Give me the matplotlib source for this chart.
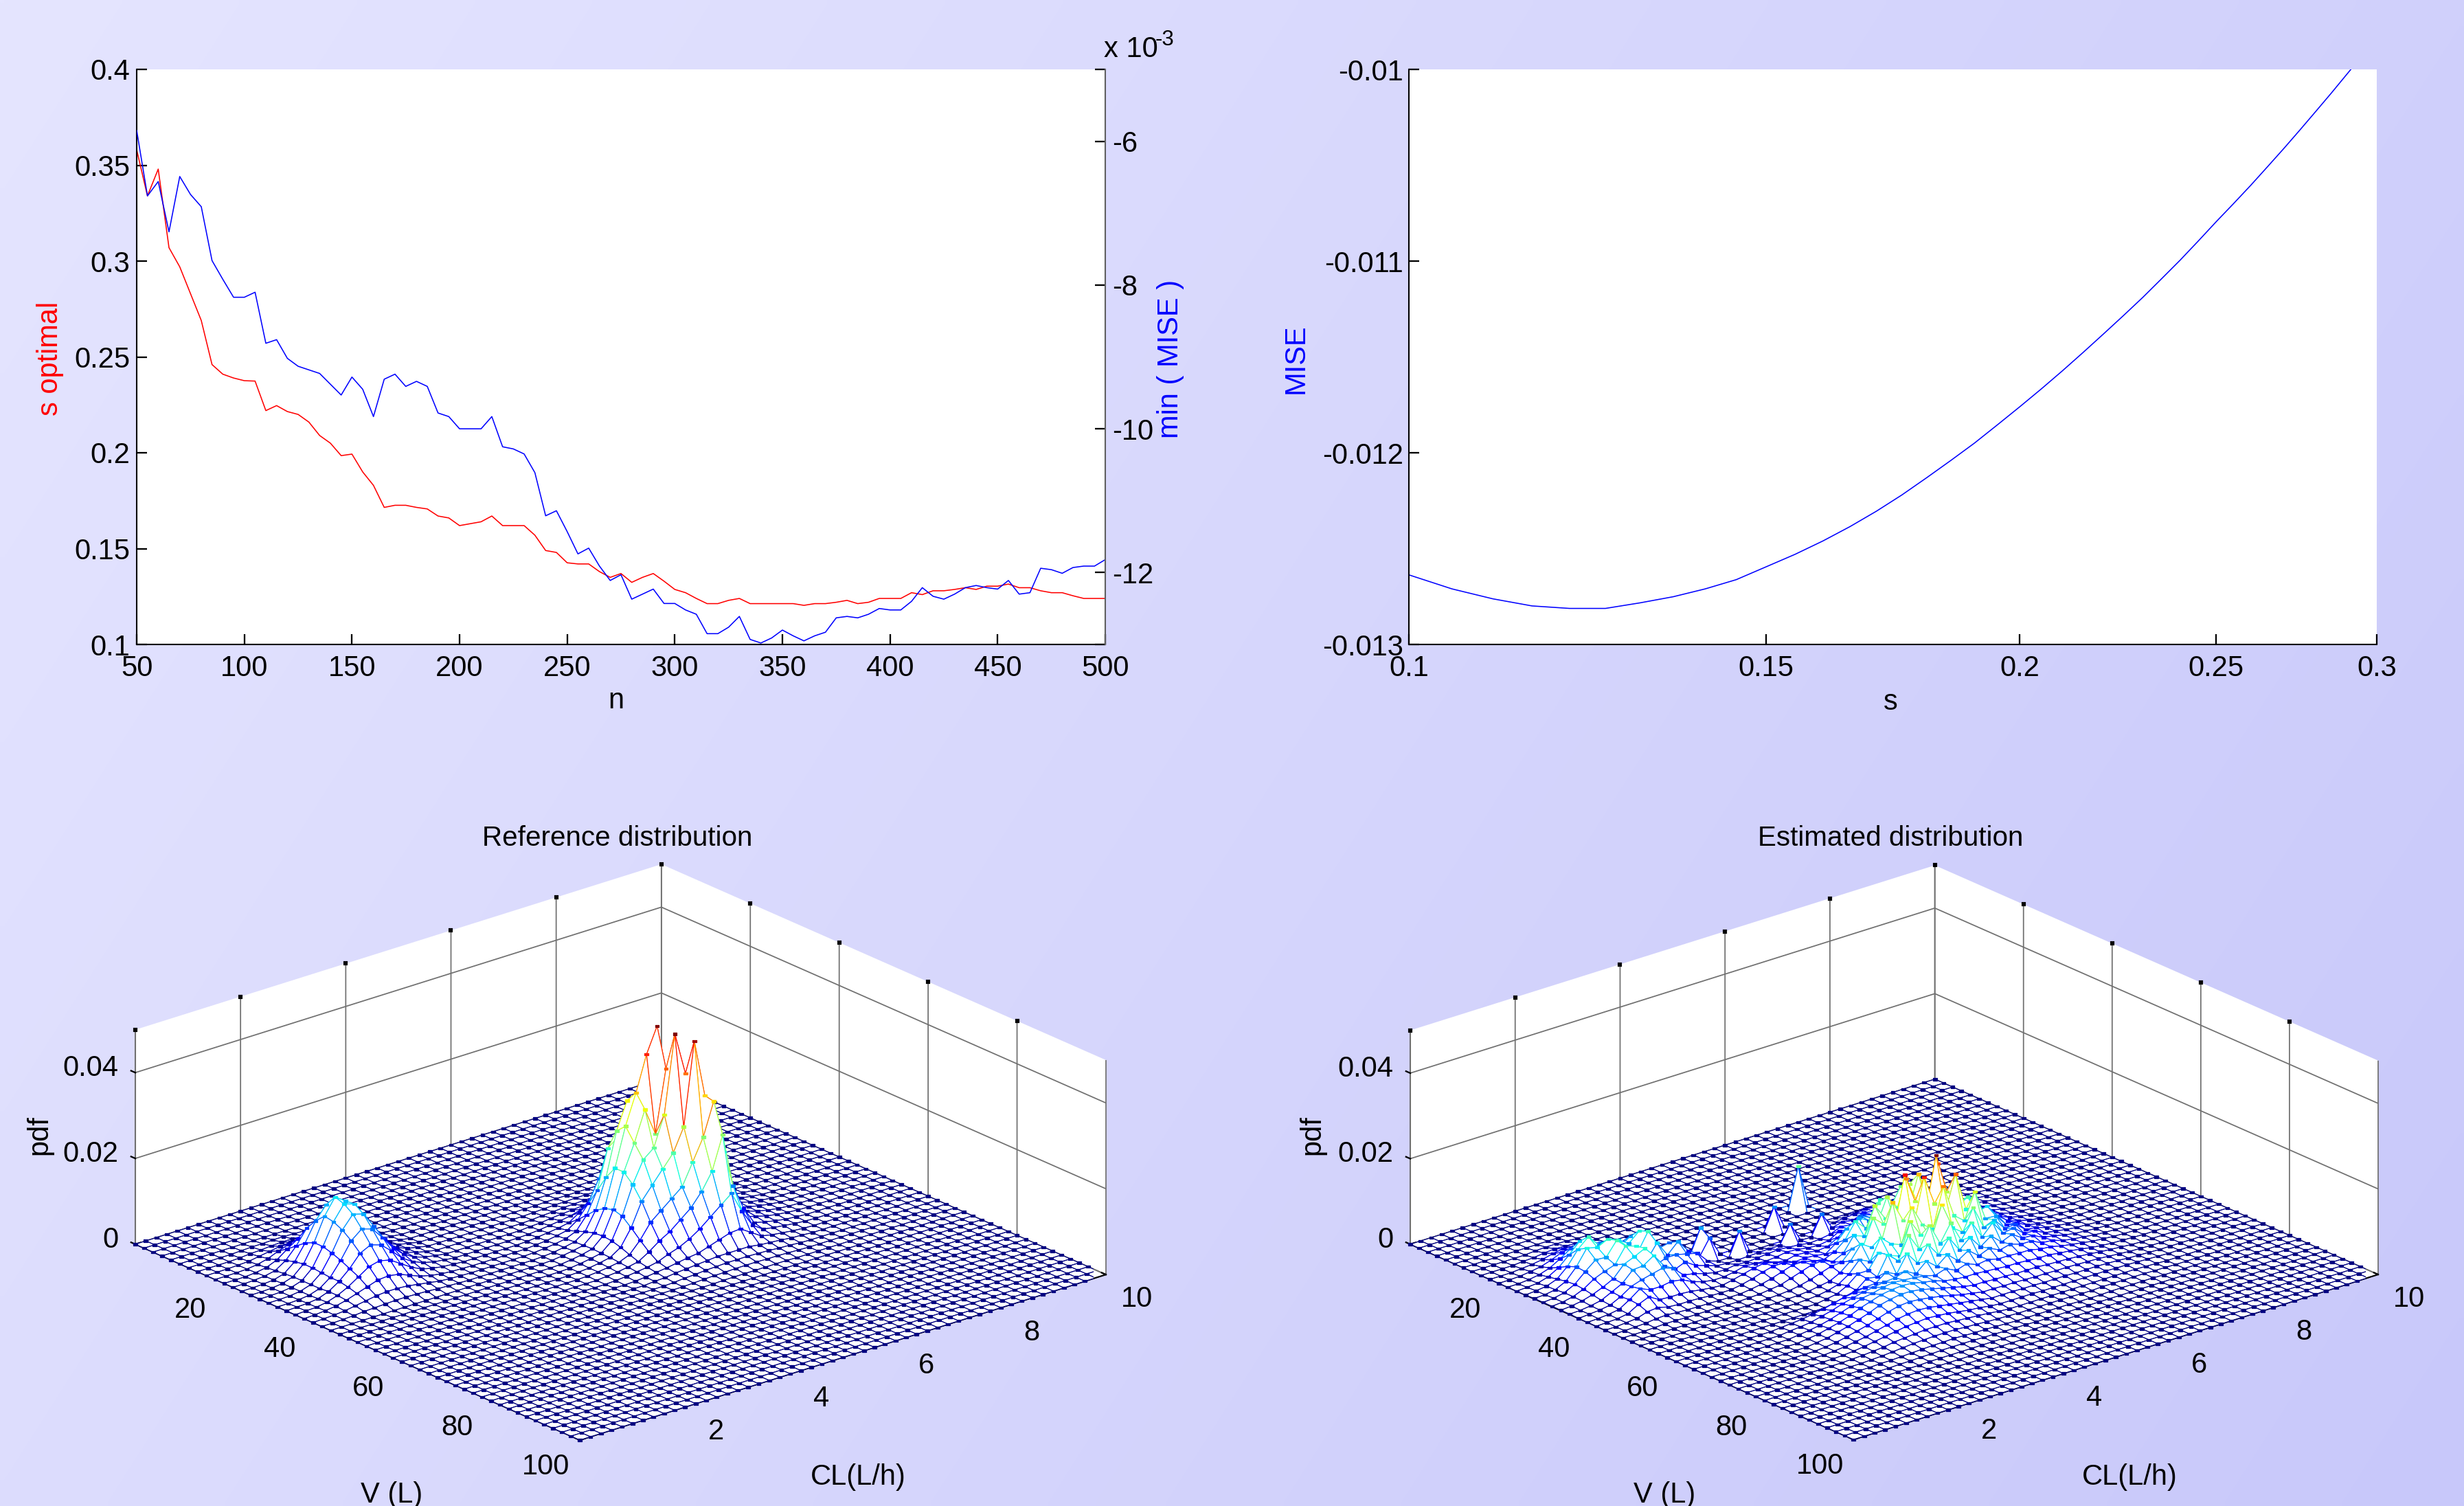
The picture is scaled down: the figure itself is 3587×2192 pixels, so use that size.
import numpy as np
import matplotlib
matplotlib.use("Agg")
import matplotlib.pyplot as plt
from mpl_toolkits.mplot3d import proj3d
from mpl_toolkits.mplot3d.art3d import Poly3DCollection

FW, FH, DPI = 3587, 2192, 300

n_values = list(range(50, 505, 5))
s_optimal = [
    0.358, 0.334, 0.348, 0.307, 0.297, 0.283, 0.269, 0.246, 0.241, 0.239,
    0.2376, 0.2374, 0.222, 0.2246, 0.2215, 0.220, 0.216, 0.209, 0.205, 0.1985,
    0.1993, 0.190, 0.183, 0.1715, 0.1726, 0.1726, 0.1715, 0.1707, 0.167, 0.166,
    0.162, 0.163, 0.164, 0.167, 0.162, 0.162, 0.162, 0.157, 0.149, 0.148,
    0.1426, 0.142, 0.142, 0.138, 0.135, 0.137, 0.1324, 0.135, 0.137, 0.133,
    0.1287, 0.127, 0.124, 0.1213, 0.1213, 0.123, 0.124, 0.1213, 0.1213, 0.1213,
    0.1213, 0.1213, 0.1204, 0.1213, 0.1213, 0.122, 0.123, 0.1213, 0.122, 0.124,
    0.124, 0.124, 0.127, 0.126, 0.128, 0.128, 0.1287, 0.1296, 0.1287, 0.1304,
    0.1304, 0.1315, 0.1296, 0.1296, 0.128, 0.127, 0.127, 0.1254, 0.124, 0.124,
    0.124,
]
min_mise = [
    -5.85, -6.76, -6.56, -7.26, -6.49, -6.74, -6.91, -7.66, -7.92, -8.17,
    -8.17, -8.10, -8.81, -8.76, -9.02, -9.13, -9.18, -9.23, -9.38, -9.53,
    -9.28, -9.45, -9.83, -9.31, -9.24, -9.41, -9.34, -9.41, -9.78, -9.83,
    -10.0, -10.0, -10.0, -9.83, -10.25, -10.28, -10.35, -10.61, -11.21, -11.14,
    -11.43, -11.74, -11.66, -11.91, -12.11, -12.03, -12.37, -12.30, -12.23, -12.43,
    -12.43, -12.52, -12.58, -12.85, -12.85, -12.76, -12.61, -12.93, -12.98, -12.91,
    -12.80, -12.88, -12.95, -12.88, -12.83, -12.63, -12.61, -12.63, -12.58, -12.50,
    -12.52, -12.52, -12.40, -12.21, -12.33, -12.37, -12.30, -12.21, -12.18, -12.21,
    -12.23, -12.11, -12.30, -12.28, -11.94, -11.96, -12.01, -11.93, -11.91, -11.91,
    -11.82,
]

s_values = [0.10, 0.105, 0.11, 0.115, 0.12, 0.125, 0.13, 0.135, 0.14, 0.145, 0.15,
            0.155, 0.16, 0.165, 0.17, 0.175, 0.18, 0.185, 0.19, 0.195, 0.20, 0.205,
            0.21, 0.215, 0.22, 0.225, 0.23, 0.235, 0.24, 0.245, 0.25, 0.255, 0.26,
            0.265, 0.27, 0.275, 0.28, 0.285, 0.29, 0.295, 0.30]
mise_values = [-.012637, -.012710, -.012762, -.012799, -.012812, -.012812, -.012783,
               -.012751, -.012710, -.012662, -.012595, -.012530, -.012460, -.012385,
               -.012305, -.012220, -.012130, -.012040, -.011950, -.011855, -.011761,
               -.011667, -.011572, -.011476, -.011380, -.011285, -.011190, -.011092,
               -.010995, -.010895, -.010795, -.010700, -.010605, -.010508, -.010412,
               -.010315, -.010218, -.010122, -.010025, -.009930, -.009835]

# surface patches, pdf in 1e-4 units, grid node index = V/2 and CL*5
ref_main_start = (15, 23)
ref_main = [
    [0, 0, 0, 0, 1, 2, 3, 3, 3, 3, 2, 1, 1, 0, 0, 0, 0],
    [0, 0, 1, 2, 4, 7, 10, 12, 12, 10, 7, 4, 2, 1, 0, 0, 0],
    [0, 1, 3, 6, 12, 20, 30, 34, 30, 26, 18, 10, 5, 2, 1, 0, 0],
    [1, 2, 6, 14, 30, 52, 76, 70, 84, 58, 38, 22, 10, 4, 2, 0, 0],
    [1, 4, 12, 30, 60, 110, 140, 150, 130, 110, 70, 40, 18, 8, 3, 1, 0],
    [2, 6, 20, 50, 100, 190, 210, 270, 220, 170, 112, 62, 28, 12, 4, 1, 0],
    [2, 8, 28, 70, 140, 240, 303, 250, 330, 240, 160, 84, 38, 14, 5, 2, 0],
    [3, 10, 34, 84, 170, 260, 330, 412, 470, 300, 210, 104, 46, 18, 6, 2, 0],
    [3, 10, 36, 90, 170, 230, 300, 236, 380, 330, 230, 120, 52, 20, 7, 2, 0],
    [3, 10, 34, 84, 150, 200, 220, 290, 470, 370, 280, 130, 54, 22, 8, 2, 0],
    [2, 8, 28, 66, 120, 150, 180, 210, 263, 455, 320, 170, 54, 20, 7, 2, 0],
    [2, 6, 20, 46, 80, 100, 120, 140, 190, 240, 316, 190, 70, 22, 7, 2, 0],
    [1, 4, 12, 28, 46, 60, 80, 100, 130, 170, 247, 120, 60, 16, 5, 1, 0],
    [1, 2, 6, 14, 24, 32, 44, 60, 80, 100, 120, 70, 30, 10, 3, 1, 0],
    [0, 1, 3, 6, 10, 14, 20, 28, 36, 44, 46, 30, 14, 5, 2, 0, 0],
    [0, 0, 1, 2, 4, 5, 8, 10, 12, 14, 14, 10, 5, 2, 1, 0, 0],
    [0, 0, 0, 0, 1, 1, 2, 3, 3, 3, 3, 2, 1, 0, 0, 0, 0],
]
ref_foot_start = (13, 21)
ref_foot = [
    [0, 0, 0, 0, 0, 0, 0, 1, 1, 1, 1, 1, 1, 1, 0, 0, 0, 0, 0, 0, 0],
    [0, 0, 0, 0, 0, 1, 2, 3, 3, 4, 4, 4, 3, 3, 2, 1, 0, 0, 0, 0, 0],
    [0, 0, 0, 0, 1, 3, 4, 6, 7, 8, 8, 8, 7, 6, 4, 3, 1, 0, 0, 0, 0],
    [0, 0, 0, 2, 3, 6, 8, 10, 12, 14, 14, 14, 12, 10, 8, 6, 3, 2, 0, 0, 0],
    [0, 0, 1, 3, 6, 9, 13, 17, 20, 22, 22, 22, 20, 17, 13, 9, 6, 3, 1, 0, 0],
    [0, 1, 3, 6, 9, 13, 19, 24, 27, 30, 30, 30, 27, 24, 19, 13, 9, 6, 3, 1, 0],
    [0, 2, 4, 8, 13, 19, 25, 30, 35, 40, 40, 40, 35, 30, 25, 19, 13, 8, 4, 2, 0],
    [1, 3, 6, 10, 17, 24, 30, 38, 40, 40, 40, 40, 40, 38, 30, 24, 17, 10, 6, 3, 1],
    [1, 3, 7, 12, 20, 27, 35, 40, 40, 40, 40, 40, 40, 40, 35, 27, 20, 12, 7, 3, 1],
    [1, 4, 8, 13, 21, 29, 38, 40, 40, 40, 40, 40, 40, 40, 38, 29, 21, 13, 8, 4, 1],
    [1, 4, 8, 14, 22, 30, 40, 40, 40, 40, 40, 40, 40, 40, 40, 30, 22, 14, 8, 4, 1],
    [1, 4, 8, 13, 21, 29, 38, 40, 40, 40, 40, 40, 40, 40, 38, 29, 21, 13, 8, 4, 1],
    [1, 3, 7, 12, 20, 27, 35, 40, 40, 40, 40, 40, 40, 40, 35, 27, 20, 12, 7, 3, 1],
    [1, 3, 6, 10, 17, 24, 30, 38, 40, 40, 40, 40, 40, 38, 30, 24, 17, 10, 6, 3, 1],
    [0, 2, 4, 8, 13, 19, 25, 30, 35, 40, 40, 40, 35, 30, 25, 19, 13, 8, 4, 2, 0],
    [0, 1, 3, 6, 9, 13, 19, 24, 27, 30, 30, 30, 27, 24, 19, 13, 9, 6, 3, 1, 0],
    [0, 0, 1, 3, 6, 9, 13, 17, 20, 22, 22, 22, 20, 17, 13, 9, 6, 3, 1, 0, 0],
    [0, 0, 0, 2, 3, 6, 8, 10, 12, 14, 14, 14, 12, 10, 8, 6, 3, 2, 0, 0, 0],
    [0, 0, 0, 0, 1, 3, 4, 6, 7, 8, 8, 8, 7, 6, 4, 3, 1, 0, 0, 0, 0],
    [0, 0, 0, 0, 0, 1, 2, 3, 3, 4, 4, 4, 3, 3, 2, 1, 0, 0, 0, 0, 0],
    [0, 0, 0, 0, 0, 0, 0, 1, 1, 1, 1, 1, 1, 1, 0, 0, 0, 0, 0, 0, 0],
]
ref_small_start = (6, 1)
ref_small = [
    [0, 0, 0, 0, 1, 2, 2, 3, 3, 2, 1, 1, 0, 0, 0],
    [0, 0, 0, 1, 3, 4, 6, 7, 7, 5, 4, 3, 2, 1, 0],
    [0, 0, 1, 2, 6, 10, 14, 16, 16, 12, 8, 6, 4, 2, 1],
    [0, 0, 1, 4, 10, 20, 28, 32, 30, 24, 16, 10, 6, 3, 1],
    [0, 0, 2, 6, 16, 34, 50, 58, 54, 42, 28, 16, 8, 4, 2],
    [0, 1, 3, 8, 24, 50, 84, 96, 88, 66, 42, 24, 12, 6, 3],
    [0, 1, 3, 10, 30, 66, 110, 140, 124, 92, 58, 32, 16, 8, 4],
    [0, 1, 4, 12, 34, 76, 130, 167, 150, 110, 68, 38, 20, 10, 5],
    [0, 1, 4, 12, 34, 76, 126, 160, 152, 112, 70, 38, 20, 10, 5],
    [0, 1, 4, 12, 32, 70, 116, 145, 138, 102, 64, 36, 18, 10, 4],
    [0, 1, 4, 12, 30, 62, 100, 120, 112, 84, 52, 30, 16, 8, 4],
    [1, 2, 5, 14, 30, 52, 80, 92, 84, 62, 38, 22, 12, 6, 3],
    [1, 2, 6, 14, 26, 42, 58, 64, 58, 42, 26, 14, 8, 4, 2],
    [1, 3, 6, 12, 20, 28, 36, 38, 34, 24, 14, 8, 4, 2, 1],
    [1, 2, 4, 8, 12, 16, 18, 18, 16, 12, 8, 4, 2, 1, 0],
    [0, 1, 2, 4, 5, 6, 7, 7, 6, 5, 3, 2, 1, 0, 0],
]
est_right_start = (17, 16)
est_right = [
    [0, 0, 0, 0, 0, 0, 0, 0, 0, 3, 5, 8, 10, 14, 10, 14, 12, 8, 9, 5, 3, 2, 0, 0, 0, 0],
    [0, 0, 0, 0, 0, 0, 0, 3, 5, 10, 16, 12, 22, 18, 26, 20, 24, 14, 12, 8, 5, 2, 1, 0, 0, 0],
    [0, 0, 0, 0, 0, 2, 4, 8, 12, 22, 18, 34, 26, 44, 30, 38, 28, 26, 16, 12, 7, 4, 2, 0, 0, 0],
    [0, 0, 0, 0, 2, 5, 10, 14, 28, 24, 48, 36, 62, 44, 66, 42, 46, 30, 24, 14, 9, 5, 2, 1, 0, 0],
    [0, 0, 0, 2, 4, 10, 16, 30, 26, 60, 46, 88, 60, 104, 62, 74, 48, 44, 26, 18, 10, 6, 3, 1, 0, 0],
    [0, 0, 1, 4, 8, 16, 34, 60, 44, 36, 96, 64, 52, 118, 84, 66, 70, 40, 32, 18, 11, 6, 3, 1, 0, 0],
    [0, 1, 3, 6, 14, 30, 50, 86, 62, 60, 120, 88, 70, 150, 90, 70, 96, 52, 30, 20, 12, 7, 3, 2, 0, 0],
    [0, 2, 5, 12, 24, 36, 70, 60, 124, 86, 66, 164, 104, 84, 176, 96, 70, 72, 40, 24, 13, 7, 4, 2, 1, 0],
    [1, 3, 8, 18, 32, 56, 50, 112, 90, 70, 190, 120, 88, 212, 120, 76, 92, 50, 34, 24, 13, 8, 4, 2, 1, 0],
    [2, 5, 12, 24, 44, 76, 60, 72, 150, 100, 78, 186, 116, 86, 170, 80, 64, 72, 42, 22, 15, 8, 5, 2, 1, 0],
    [3, 7, 14, 30, 56, 44, 92, 70, 60, 140, 92, 74, 166, 90, 70, 130, 60, 58, 30, 26, 14, 9, 5, 3, 1, 0],
    [4, 8, 20, 40, 40, 74, 60, 50, 124, 84, 66, 140, 78, 60, 110, 56, 66, 38, 40, 20, 17, 9, 6, 3, 1, 0],
    [5, 12, 18, 38, 34, 78, 56, 108, 68, 116, 66, 106, 58, 92, 50, 76, 44, 48, 28, 26, 14, 10, 6, 3, 2, 0],
    [6, 12, 24, 26, 54, 42, 82, 52, 88, 56, 88, 52, 74, 44, 62, 40, 50, 34, 32, 20, 16, 10, 6, 4, 2, 1],
    [7, 14, 18, 34, 32, 58, 42, 66, 46, 66, 44, 60, 40, 50, 38, 44, 36, 36, 24, 22, 14, 10, 7, 4, 2, 1],
    [7, 12, 20, 22, 36, 32, 44, 38, 50, 38, 46, 36, 40, 34, 34, 32, 32, 26, 24, 18, 14, 10, 6, 4, 2, 1],
    [6, 11, 14, 20, 22, 28, 30, 32, 34, 32, 32, 30, 28, 26, 26, 24, 22, 22, 18, 16, 12, 8, 5, 3, 2, 1],
    [5, 8, 11, 14, 16, 18, 20, 22, 22, 22, 22, 20, 20, 18, 18, 18, 16, 15, 14, 12, 10, 7, 5, 3, 1, 0],
    [3, 6, 8, 10, 12, 13, 14, 15, 15, 15, 15, 14, 14, 13, 12, 12, 11, 11, 10, 9, 8, 6, 4, 2, 1, 0],
    [2, 4, 5, 7, 8, 9, 10, 10, 10, 10, 10, 10, 9, 9, 8, 8, 8, 7, 7, 7, 6, 5, 3, 2, 1, 0],
    [1, 2, 3, 4, 5, 6, 6, 6, 6, 6, 6, 6, 6, 5, 5, 5, 5, 5, 5, 5, 4, 4, 3, 2, 1, 0],
    [0, 1, 2, 2, 3, 3, 3, 3, 3, 3, 3, 3, 3, 3, 3, 3, 3, 3, 3, 3, 3, 3, 2, 1, 0, 0],
    [0, 0, 1, 1, 1, 2, 2, 2, 2, 2, 2, 2, 2, 2, 2, 1, 1, 2, 2, 2, 2, 2, 1, 1, 0, 0],
    [0, 0, 0, 0, 0, 0, 0, 1, 1, 1, 1, 1, 1, 1, 0, 0, 0, 1, 1, 1, 1, 1, 0, 0, 0, 0],
]
est_front_start = (30, 10)
est_front = [
    [2, 4, 6, 10, 14, 20, 26, 30, 34, 36, 38, 38, 36, 34, 30, 26, 20, 14, 10, 6, 3],
    [3, 5, 8, 14, 20, 28, 34, 40, 44, 48, 50, 48, 44, 40, 36, 30, 22, 16, 10, 6, 3],
    [3, 6, 10, 16, 24, 32, 42, 46, 52, 56, 54, 52, 48, 42, 36, 28, 22, 14, 10, 5, 2],
    [3, 6, 12, 18, 26, 36, 44, 52, 56, 58, 56, 50, 46, 38, 32, 24, 18, 12, 8, 4, 2],
    [3, 6, 12, 18, 26, 34, 44, 50, 54, 54, 50, 44, 38, 32, 26, 20, 14, 10, 6, 3, 1],
    [2, 5, 10, 16, 22, 30, 38, 44, 46, 44, 40, 36, 30, 24, 20, 14, 10, 6, 4, 2, 1],
    [2, 4, 8, 12, 18, 24, 30, 34, 36, 34, 30, 26, 22, 18, 14, 10, 6, 4, 2, 1, 0],
    [1, 3, 6, 10, 14, 18, 22, 24, 26, 24, 22, 18, 14, 12, 8, 6, 4, 2, 1, 0, 0],
    [1, 2, 4, 6, 10, 12, 14, 16, 16, 16, 14, 12, 10, 8, 5, 3, 2, 1, 0, 0, 0],
    [0, 1, 2, 4, 6, 8, 9, 10, 10, 10, 8, 7, 5, 4, 3, 2, 1, 0, 0, 0, 0],
    [0, 1, 1, 2, 3, 4, 5, 5, 6, 5, 4, 4, 3, 2, 1, 1, 0, 0, 0, 0, 0],
    [0, 0, 1, 1, 2, 2, 3, 3, 3, 3, 2, 2, 1, 1, 1, 0, 0, 0, 0, 0, 0],
    [0, 0, 0, 0, 1, 1, 1, 1, 1, 1, 1, 1, 1, 0, 0, 0, 0, 0, 0, 0, 0],
]
est_left_start = (7, 0)
est_left = [
    [0, 0, 0, 0, 0, 0, 2, 3, 3, 2, 0, 0, 0, 0, 0],
    [0, 0, 0, 0, 2, 3, 6, 8, 7, 5, 3, 0, 0, 0, 0],
    [0, 0, 0, 2, 4, 8, 14, 18, 14, 9, 5, 2, 0, 0, 0],
    [0, 0, 1, 4, 8, 16, 26, 22, 26, 14, 7, 3, 1, 0, 0],
    [0, 0, 2, 6, 14, 28, 44, 30, 40, 18, 12, 6, 2, 0, 0],
    [0, 1, 3, 10, 24, 46, 70, 40, 52, 30, 38, 12, 4, 1, 0],
    [0, 2, 5, 14, 36, 68, 90, 62, 66, 44, 60, 24, 8, 3, 0],
    [1, 2, 6, 18, 44, 80, 74, 86, 76, 60, 82, 38, 22, 6, 1],
    [1, 3, 8, 20, 42, 62, 60, 92, 70, 48, 90, 42, 48, 14, 3],
    [1, 3, 8, 18, 34, 44, 52, 88, 80, 38, 72, 36, 60, 30, 6],
    [1, 3, 7, 14, 24, 36, 62, 72, 84, 36, 46, 46, 40, 34, 8],
    [1, 2, 5, 10, 22, 34, 58, 60, 76, 44, 28, 38, 22, 14, 6],
    [0, 2, 4, 8, 20, 36, 44, 50, 56, 48, 24, 20, 12, 7, 3],
    [0, 1, 3, 7, 22, 40, 30, 30, 34, 30, 18, 10, 6, 3, 1],
    [0, 1, 2, 6, 20, 30, 16, 14, 14, 12, 8, 5, 3, 1, 0],
    [0, 0, 2, 4, 12, 14, 8, 6, 6, 5, 3, 2, 1, 0, 0],
    [0, 0, 1, 2, 5, 6, 4, 3, 2, 2, 1, 1, 0, 0, 0],
    [0, 0, 0, 1, 2, 2, 1, 1, 1, 1, 0, 0, 0, 0, 0],
]
est_mid_start = (18, 12)
est_mid = [
    [1, 2, 3, 4, 4, 5, 6, 7, 7, 6, 4, 2, 1],
    [2, 4, 6, 10, 8, 10, 12, 14, 12, 10, 6, 3, 1],
    [3, 6, 10, 16, 14, 12, 14, 18, 16, 12, 8, 4, 2],
    [3, 8, 14, 20, 24, 18, 14, 20, 18, 14, 10, 6, 2],
    [2, 6, 12, 20, 26, 26, 20, 22, 20, 16, 12, 8, 3],
    [1, 4, 8, 14, 22, 30, 30, 24, 20, 18, 14, 10, 4],
    [1, 2, 5, 8, 16, 24, 32, 34, 24, 18, 16, 12, 5],
    [0, 1, 2, 4, 8, 14, 22, 30, 30, 24, 18, 14, 6],
    [0, 0, 1, 2, 4, 8, 12, 18, 24, 26, 20, 16, 8],
    [0, 0, 0, 1, 2, 4, 6, 10, 14, 18, 20, 14, 8],
    [0, 0, 0, 0, 1, 2, 3, 5, 7, 10, 12, 10, 6],
]
spike_i = [13, 15, 18, 18, 17, 15, 16, 16, 15]
spike_j = [26, 22, 21, 24, 17, 15, 15, 10, 9]
spike_z = [100, 55, 50, 50, 55, 60, 45, 45, 40]

v_ticks = [20, 40, 60, 80, 100]
cl_ticks = [2, 4, 6, 8, 10]
pdf_ticks = [0, 0.02, 0.04]
pdf_tick_labels = ["0", "0.02", "0.04"]

NODES = 51
AZ, EL = -40.2, 21.85
BOX_Z = 0.3355
ZMAX = 0.05

plt.rcParams["font.family"] = ["Liberation Sans", "DejaVu Sans"]
plt.rcParams["font.size"] = 10
plt.rcParams["grid.color"] = "#707070"
plt.rcParams["grid.linewidth"] = 0.42
plt.rcParams["axes.linewidth"] = 0.5
for t in ["xtick", "ytick"]:
    plt.rcParams[t + ".major.width"] = 0.55
    plt.rcParams[t + ".major.size"] = 3.7
    plt.rcParams[t + ".direction"] = "in"


def fx(px):
    return px / FW


def fy(py):
    return 1 - py / FH


def label(px, py, text, **kw):
    kw.setdefault("ha", "center")
    kw.setdefault("va", "center")
    fig.text(fx(px), fy(py), text, **kw)


def axes_px(left, top, right, bottom):
    return fig.add_axes([fx(left), fy(bottom), (right - left) / FW, (bottom - top) / FH])


def build_surface(patches, spikes=None):
    z = np.zeros((NODES, NODES))
    for start, rows in patches:
        rows = np.array(rows, dtype=float)
        i0, j0 = start
        block = z[i0:i0 + rows.shape[0], j0:j0 + rows.shape[1]]
        np.maximum(block, rows, out=block)
    if spikes is not None:
        for i, j, v in zip(*spikes):
            z[i, j] = max(z[i, j], v)
    return z * 1e-4


def draw_mesh(ax, z):
    V = np.linspace(0, 100, NODES)
    CL = np.linspace(0, 10, NODES)
    cmap = plt.get_cmap("jet")
    zmax = z.max()
    polys, faces, edges = [], [], []
    for i in range(NODES - 1):
        for j in range(NODES - 1):
            polys.append([(V[i], CL[j], z[i, j]), (V[i + 1], CL[j], z[i + 1, j]),
                          (V[i + 1], CL[j + 1], z[i + 1, j + 1]), (V[i], CL[j + 1], z[i, j + 1])])
            faces.append((1, 1, 1, 1))
            cell = z[i:i + 2, j:j + 2]
            edges.append(cmap((0.7 * cell.mean() + 0.3 * cell.max()) / zmax))

    # node dots sit in the same sorted collection, nudged toward the camera so only peaks hide them
    a, e = np.radians(AZ), np.radians(EL)
    right = np.array([-np.sin(a), np.cos(a), 0])
    up = np.array([-np.cos(a) * np.sin(e), -np.sin(a) * np.sin(e), np.cos(e)])
    front = np.array([np.cos(e) * np.cos(a), np.cos(e) * np.sin(a), np.sin(e)])
    to_data = np.array([100, 10, ZMAX / BOX_Z])
    rx, ry = 2.9 / 1002, 1.7 / 1002
    corners = [rx * right + ry * up, rx * right - ry * up, -rx * right - ry * up, -rx * right + ry * up]
    corners = [(c + 0.026 * front) * to_data for c in corners]
    for i in range(NODES):
        for j in range(NODES):
            p = np.array([V[i], CL[j], z[i, j]])
            polys.append([tuple(p + c) for c in corners])
            col = cmap(z[i, j] / zmax)
            faces.append(col)
            edges.append(col)
    mesh = Poly3DCollection(polys, facecolors=faces, edgecolors=edges, linewidths=0.3, zsort="average")
    ax.add_collection3d(mesh, autolim=False)


def text_at(ax, v, cl, p, s, **kw):
    # text placed at a 3D spot, written as plain 2D text on the projected point
    xs, ys, _ = proj3d.proj_transform(np.array([float(v)]), np.array([float(cl)]), np.array([float(p)]), ax.get_proj())
    ax.text2D(xs[0], ys[0], s, transform=ax.transData, va="center", **kw)


def panel_3d(z, left_corner, right_corner, title, title_x, pdf_x, v_pos, cl_pos):
    ax = fig.add_axes([0, 0, 0.2, 0.2], projection="3d", proj_type="ortho")
    ax.set_facecolor("none")
    ax.set_xlim(0, 100, view_margin=0)
    ax.set_ylim(0, 10, view_margin=0)
    ax.set_zlim(0, ZMAX, view_margin=0)
    ax.set_box_aspect((1, 1, BOX_Z))
    ax.view_init(elev=EL, azim=AZ)

    # put the box where the corners are in pixels
    xs, ys, _ = proj3d.proj_transform(np.array([0.0, 100.0]), np.array([0.0, 10.0]), np.zeros(2), ax.get_proj())
    l, r = matplotlib.axes.Axes.get_xlim(ax)
    b, t = matplotlib.axes.Axes.get_ylim(ax)
    side = (right_corner[0] - left_corner[0]) / (xs[1] - xs[0]) * (r - l)
    ax_left = left_corner[0] - (xs[0] - l) / (r - l) * side
    ax_bottom = (FH - left_corner[1]) - (ys[0] - b) / (t - b) * side
    ax.set_position([ax_left / FW, ax_bottom / FH, side / FW, side / FH])

    for axis in [ax.xaxis, ax.yaxis, ax.zaxis]:
        axis.set_pane_color((1, 1, 1, 1))
        axis.pane.set_edgecolor("none")
        axis.line.set_linewidth(0.5)
        axis._axinfo["tick"]["inward_factor"] = 0.0
        axis._axinfo["tick"]["outward_factor"] = 0.12
    ax.zaxis._axinfo["juggled"] = (1, 2, 0)
    ax.zaxis.line.set_color("#707070")
    ax.grid(True)
    ax.set_xticks([0] + v_ticks)
    ax.set_yticks([0] + cl_ticks)
    ax.set_zticks(pdf_ticks)
    ax.tick_params(labelbottom=False, labelleft=False, labelright=False, labeltop=False)
    ax.xaxis.set_ticklabels([])
    ax.yaxis.set_ticklabels([])
    ax.zaxis.set_ticklabels([])
    draw_mesh(ax, z)

    # tick labels sit a little off the box edges
    for v in v_ticks:
        text_at(ax, v + 4.0, -0.98, -0.0007, str(v), ha="center")
    for c in cl_ticks:
        text_at(ax, 109.4, c - 0.21, -0.0007, str(c), ha="center")
    for p, s in zip(pdf_ticks, pdf_tick_labels):
        text_at(ax, -1.6, -0.19, p + 0.001, s, ha="right")

    # the small marks along the top of the walls
    top_v = [0, 0, 0, 0, 0, 0, 20, 40, 60, 80, 100]
    top_cl = [0, 2, 4, 6, 8, 10, 10, 10, 10, 10, 10]
    ax.plot(top_v, top_cl, [ZMAX] * 11, ls="none", marker="s", ms=0.6, color="k")
    ax.plot([100, 100], [10, 10], [0.02, 0.04], ls="none", marker="s", ms=0.6, color="k")

    label(title_x, 1220, title, fontsize=9.7)
    label(pdf_x, 1652, "pdf", rotation=90)
    label(v_pos[0], v_pos[1], "V (L)")
    label(cl_pos[0], cl_pos[1], "CL(L/h)")
    return ax


fig = plt.figure(figsize=(FW / DPI, FH / DPI), dpi=DPI)

# page background, light at top left to darker at bottom right
bg_ax = fig.add_axes([0, 0, 1, 1], zorder=-5)
gx, gy = np.meshgrid(np.linspace(0, 1, 300), np.linspace(0, 1, 200))
bg = 0.72 * gx + 0.28 * gy
rgb = np.dstack([(229 - 29 * bg) / 255, (229 - 29 * bg) / 255, (255 - 5 * bg) / 255])
bg_ax.imshow(rgb, aspect="auto", interpolation="bilinear")
bg_ax.axis("off")

# top left
ax1 = axes_px(199, 101, 1609, 938)
ax1.plot(n_values, s_optimal, color="#ff0000", lw=0.38)
ax1.set_xlim(50, 500)
ax1.set_ylim(0.1, 0.4)
ax1.set_xticks(list(range(50, 550, 50)))
ax1.set_yticks([0.1, 0.15, 0.2, 0.25, 0.3, 0.35, 0.4], ["0.1", "0.15", "0.2", "0.25", "0.3", "0.35", "0.4"])
ax1.spines["top"].set_visible(False)
ax1.spines["right"].set_visible(False)
ax1.tick_params(axis="y", pad=2.4)
ax1.tick_params(axis="x", pad=3.6)

ax1b = ax1.twinx()
ax1b.plot(n_values, min_mise, color="#0000ff", lw=0.38)
ax1b.set_ylim(-13, -5)
ax1b.set_yticks([-13, -12, -10, -8, -6, -5], ["", "-12", "-10", "-8", "-6", ""])
ax1b.spines["top"].set_visible(False)
ax1b.spines["left"].set_visible(False)
ax1b.spines["bottom"].set_visible(False)
ax1b.spines["right"].set_color("#606060")
ax1b.tick_params(axis="y", pad=2.4)

label(897, 1020, "n")
label(73, 522, "s optimal", rotation=90, color="#ff0000")
label(1704, 522, "min ( MISE )", rotation=90, color="#0000ff")
label(1607, 72, "x 10", ha="left")
label(1682, 58, "-3", ha="left", fontsize=7.5)

# top right
ax2 = axes_px(2051, 101, 3460, 938)
ax2.plot(s_values, mise_values, color="#0000ff", lw=0.38)
ax2.set_xscale("log")
ax2.set_xlim(0.1, 0.3)
ax2.set_ylim(-0.013, -0.01)
ax2.set_xticks([0.1, 0.15, 0.2, 0.25, 0.3], ["0.1", "0.15", "0.2", "0.25", "0.3"])
ax2.minorticks_off()
ax2.set_yticks([-0.013, -0.012, -0.011, -0.01], ["-0.013", "-0.012", "-0.011", "-0.01"])
ax2.spines["top"].set_visible(False)
ax2.spines["right"].set_visible(False)
ax2.tick_params(axis="y", pad=2.0)
ax2.tick_params(axis="x", pad=3.6)
label(1887, 522, "MISE", rotation=90, color="#0000ff")
label(2752, 1022, "s")

z_ref = build_surface([(ref_main_start, ref_main), (ref_foot_start, ref_foot), (ref_small_start, ref_small)])
z_est = build_surface([(est_right_start, est_right), (est_front_start, est_front), (est_left_start, est_left),
                       (est_mid_start, est_mid)], (spike_i, spike_j, spike_z))

panel_3d(z_ref, (197, 1811), (1610, 1855), "Reference distribution", 899, 57, (570, 2176), (1249, 2150))
panel_3d(z_est, (2053, 1811), (3462, 1855), "Estimated distribution", 2752, 1910, (2423, 2176), (3100, 2150))

fig.savefig("out.png", dpi=DPI)
